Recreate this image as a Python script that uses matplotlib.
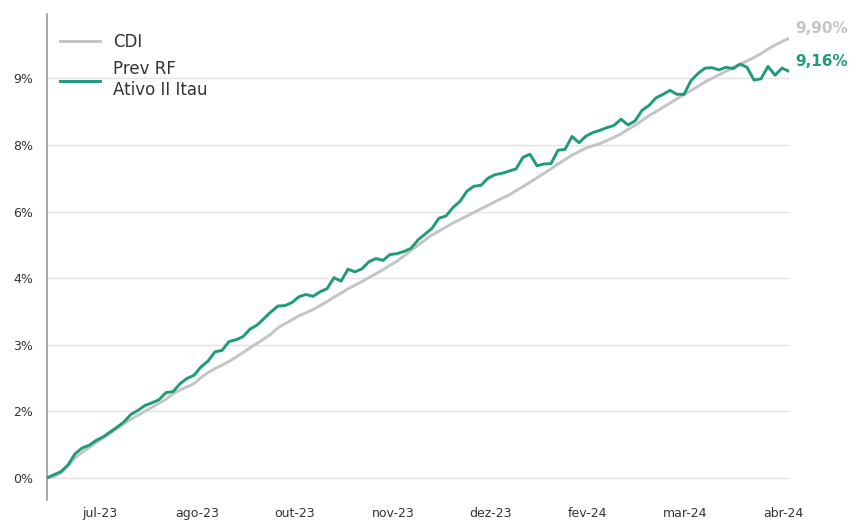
import matplotlib
matplotlib.use("Agg")
import matplotlib.pyplot as plt
import numpy as np

# ---- data (cumulative return, %) ----
cdi = [0.00, 0.03, 0.11, 0.27, 0.45, 0.57, 0.68, 0.79, 0.90, 1.00,
       1.11, 1.22, 1.32, 1.41, 1.50, 1.59, 1.68, 1.77, 1.89, 1.98,
       2.05, 2.12, 2.26, 2.37, 2.46, 2.54, 2.62, 2.72, 2.82, 2.93,
       3.03, 3.13, 3.24, 3.38, 3.47, 3.56, 3.65, 3.72, 3.79, 3.88,
       3.97, 4.07, 4.16, 4.26, 4.34, 4.42, 4.51, 4.60, 4.69, 4.79,
       4.88, 5.00, 5.12, 5.24, 5.36, 5.47, 5.56, 5.65, 5.74, 5.82,
       5.90, 5.98, 6.06, 6.14, 6.22, 6.30, 6.37, 6.47, 6.56, 6.66,
       6.76, 6.86, 6.96, 7.07, 7.17, 7.27, 7.35, 7.43, 7.48, 7.53,
       7.60, 7.67, 7.75, 7.85, 7.94, 8.05, 8.16, 8.25, 8.35, 8.44,
       8.54, 8.63, 8.73, 8.82, 8.92, 9.00, 9.08, 9.16, 9.24, 9.32,
       9.39, 9.47, 9.56, 9.66, 9.75, 9.83, 9.90]

prev = [0.00, 0.07, 0.14, 0.29, 0.54, 0.67, 0.73, 0.84, 0.92, 1.03,
        1.14, 1.26, 1.43, 1.52, 1.63, 1.69, 1.76, 1.92, 1.94, 2.12,
        2.24, 2.31, 2.50, 2.63, 2.84, 2.87, 3.07, 3.11, 3.18, 3.35,
        3.44, 3.59, 3.74, 3.87, 3.88, 3.95, 4.08, 4.13, 4.09, 4.19,
        4.26, 4.51, 4.43, 4.70, 4.64, 4.71, 4.87, 4.94, 4.90, 5.03,
        5.05, 5.10, 5.17, 5.36, 5.49, 5.62, 5.85, 5.90, 6.09, 6.23,
        6.46, 6.57, 6.59, 6.75, 6.83, 6.86, 6.91, 6.96, 7.22, 7.29,
        7.03, 7.07, 7.08, 7.38, 7.40, 7.69, 7.55, 7.70, 7.78, 7.83,
        7.89, 7.94, 8.08, 7.95, 8.04, 8.28, 8.39, 8.56, 8.64, 8.73,
        8.64, 8.64, 8.95, 9.11, 9.23, 9.24, 9.19, 9.25, 9.22, 9.32,
        9.25, 8.96, 8.99, 9.27, 9.07, 9.23, 9.16]

tick_pos = [7.57, 21.43, 35.43, 49.43, 63.29, 77.14, 91.14, 105.14]
tick_labels = ["jul-23", "ago-23", "out-23", "nov-23", "dez-23", "fev-24", "mar-24", "abr-24"]
ytick_vals = [0, 1.5, 3, 4.5, 6, 7.5, 9]
ytick_labels = ["0%", "2%", "3%", "4%", "6%", "8%", "9%"]

series_names = ["CDI", "Prev RF\nAtivo II Itau"]
end_labels = ["9,90%", "9,16%"]

GREEN = "#1f9a7b"
GRAY = "#c4c4c4"

x = np.arange(len(cdi))

fig = plt.figure(figsize=(8.5, 5.22), dpi=100)
ax = fig.add_axes([47/850, 22/522, 742/850, 486/522])

ax.plot(x, cdi, color=GRAY, lw=2.1, label=series_names[0], solid_joinstyle="round", zorder=3)
ax.plot(x, prev, color=GREEN, lw=2.1, label=series_names[1], solid_joinstyle="round", zorder=4)

ax.set_xlim(0, len(cdi) - 1)
ax.set_ylim(-0.5, 10.45)

ax.set_yticks(ytick_vals)
ax.set_yticklabels(ytick_labels)
ax.set_xticks(tick_pos)
ax.set_xticklabels(tick_labels)
ax.tick_params(axis="both", length=0, labelsize=9, colors="#333333")
ax.tick_params(axis="y", pad=10)
ax.tick_params(axis="x", pad=5)

ax.grid(axis="y", color="#e3e3e3", lw=1.0, zorder=0)
ax.set_axisbelow(True)
for s in ["top", "right", "bottom"]:
    ax.spines[s].set_visible(False)
ax.spines["left"].set_color("#9a9a9a")
ax.spines["left"].set_linewidth(1.2)

leg = ax.legend(loc="upper left", bbox_to_anchor=(0.0175, 0.961), borderaxespad=0,
                borderpad=0, frameon=False, fontsize=12, handlelength=2.4,
                handletextpad=0.8, labelspacing=0.55)
for t in leg.get_texts():
    t.set_color("#333333")

for vals, col, lab in [(cdi, GRAY, end_labels[0]), (prev, GREEN, end_labels[1])]:
    ax.annotate(lab, xy=(x[-1], vals[-1]), xytext=(4.5, 7), textcoords="offset points",
                ha="left", va="center", fontsize=11, fontweight="bold", color=col,
                annotation_clip=False)

fig.savefig("out.png", dpi=100)
